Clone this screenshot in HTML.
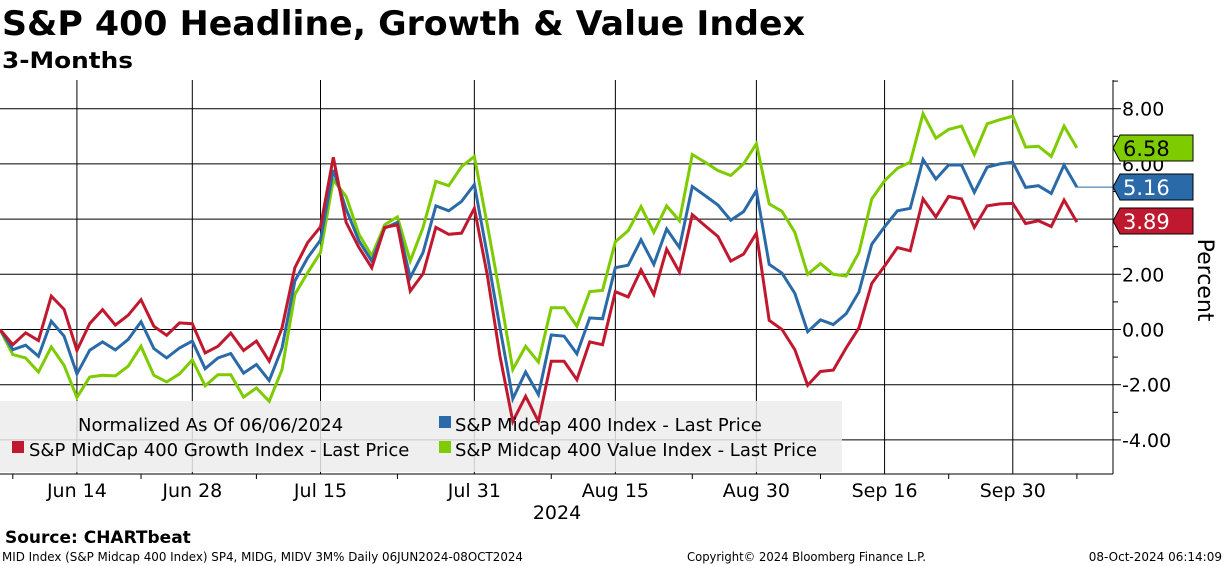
<!DOCTYPE html>
<html><head><meta charset="utf-8"><style>
body{margin:0;background:#fff}
svg{display:block;font-family:"DejaVu Sans","Liberation Sans",sans-serif}
</style></head><body>
<svg id="chart" width="1224" height="566" viewBox="0 0 1224 566">
<text x="2" y="35" font-size="34" font-weight="bold" textLength="803" lengthAdjust="spacingAndGlyphs">S&amp;P 400 Headline, Growth &amp; Value Index</text>
<text x="2" y="68" font-size="22" font-weight="bold" textLength="131" lengthAdjust="spacingAndGlyphs">3-Months</text>
<g id="grid"></g>
<rect x="0" y="401" width="842" height="71" fill="#ececec" fill-opacity="0.85"/>
<g id="series"></g>
<g id="axes"></g>
<g font-size="18">
<text x="78" y="431">Normalized As Of 06/06/2024</text>
<rect x="439" y="416" width="12" height="12" fill="#2a6aa8"/>
<text x="455" y="431">S&amp;P Midcap 400 Index - Last Price</text>
<rect x="12" y="441" width="12" height="12" fill="#c0182f"/>
<text x="29" y="456">S&amp;P MidCap 400 Growth Index - Last Price</text>
<rect x="439" y="441" width="12" height="12" fill="#7ecb00"/>
<text x="455" y="456">S&amp;P Midcap 400 Value Index - Last Price</text>
</g>
<text x="1198" y="280" font-size="22" transform="rotate(90 1198 280)" text-anchor="middle">Percent</text>
<text x="557" y="519" font-size="19" text-anchor="middle">2024</text>
<text x="5" y="543" font-size="17" font-weight="bold">Source: CHARTbeat</text>
<text x="2" y="561" font-size="12" textLength="521" lengthAdjust="spacingAndGlyphs">MID Index (S&amp;P Midcap 400 Index) SP4, MIDG, MIDV 3M%  Daily 06JUN2024-08OCT2024</text>
<text x="687" y="561" font-size="12" textLength="239" lengthAdjust="spacingAndGlyphs">Copyright© 2024 Bloomberg Finance L.P.</text>
<text x="1222" y="561" font-size="12" text-anchor="end">08-Oct-2024 06:14:09</text>
</svg>
<script>
const dateLabels=["Jun 14","Jun 28","Jul 15","Jul 31","Aug 15","Aug 30","Sep 16","Sep 30"];
const dateLabelIdx=[6,15,25,37,48,59,69,79];
const yTicks=[-4,-2,0,2,4,6,8];
const yTickLabels=["-4.00","-2.00","0.00","2.00","4.00","6.00","8.00"];
const valueSeries=[0,-0.91,-1.03,-1.54,-0.63,-1.3,-2.46,-1.72,-1.66,-1.68,-1.33,-0.61,-1.66,-1.9,-1.61,-1.1,-2.04,-1.64,-1.64,-2.45,-2.12,-2.6,-1.45,1.27,2.06,2.79,5.42,4.82,3.45,2.67,3.79,4.08,2.48,3.7,5.37,5.21,5.9,6.27,3.82,1.27,-1.45,-0.61,-1.18,0.79,0.79,0.12,1.37,1.42,3.18,3.58,4.45,3.52,4.48,3.94,6.34,6.06,5.76,5.58,6.0,6.73,4.55,4.28,3.52,2.0,2.39,2.0,1.94,2.79,4.73,5.39,5.84,6.06,7.82,6.93,7.25,7.37,6.34,7.45,7.6,7.73,6.61,6.64,6.27,7.37,6.58];
const headlineSeries=[0,-0.73,-0.57,-0.97,0.3,-0.24,-1.61,-0.75,-0.45,-0.74,-0.36,0.28,-0.69,-1.03,-0.67,-0.42,-1.42,-1.03,-0.87,-1.58,-1.27,-1.85,-0.67,1.76,2.6,3.24,5.78,4.36,3.21,2.48,3.67,3.88,1.88,2.79,4.48,4.3,4.64,5.25,2.73,0.06,-2.51,-1.54,-2.36,-0.2,-0.24,-0.88,0.42,0.39,2.24,2.33,3.25,2.36,3.64,2.97,5.18,4.85,4.51,3.96,4.27,5.03,2.36,2.04,1.31,-0.08,0.35,0.18,0.57,1.36,3.09,3.72,4.3,4.39,6.16,5.45,5.96,5.96,4.97,5.88,6.0,6.06,5.15,5.21,4.93,5.96,5.16];
const growthSeries=[0,-0.55,-0.12,-0.4,1.21,0.73,-0.76,0.22,0.72,0.16,0.52,1.08,0.12,-0.21,0.24,0.21,-0.85,-0.61,-0.13,-0.76,-0.42,-1.15,0.06,2.24,3.15,3.72,6.24,3.88,2.97,2.24,3.7,3.79,1.39,2.02,3.7,3.45,3.49,4.39,2.0,-0.97,-3.33,-2.42,-3.33,-1.15,-1.15,-1.82,-0.45,-0.55,1.37,1.18,2.16,1.27,2.91,2.08,4.16,3.76,3.37,2.48,2.73,3.49,0.33,0.0,-0.73,-2.02,-1.52,-1.47,-0.67,0.06,1.67,2.3,2.97,2.85,4.73,4.08,4.82,4.73,3.7,4.48,4.55,4.57,3.84,3.94,3.73,4.69,3.89];
const seriesNames=["value","headline","growth"];
const seriesColors=["#7ecb00","#2a6aa8","#c0182f"];
const tagY=[148,187,221];

const NS="http://www.w3.org/2000/svg";
const X0=0,STEP=12.82,Y0=329.5,YS=27.6,AX=1113,TOP=80,BOT=474;
function xs(i){return X0+i*STEP;}
function ys(v){return Y0-v*YS;}
function mk(t,a,p){const e=document.createElementNS(NS,t);for(const k in a)e.setAttribute(k,a[k]);p.appendChild(e);return e;}
const grid=document.getElementById('grid'),axes=document.getElementById('axes'),ser=document.getElementById('series');
yTicks.forEach((v,k)=>{
  const l=mk('line',{x1:0,x2:AX,y1:ys(v),y2:ys(v),stroke:'#000','stroke-width':1},grid);
  
  
  const t=mk('line',{x1:AX,x2:AX+8,y1:ys(v),y2:ys(v),stroke:'#000'},axes);
  
  
  const tx=mk('text',{x:AX+9,y:ys(v)+7,'font-size':19},axes);
  tx.textContent=yTickLabels[k];
  
  
  const m=mk('line',{x1:AX,x2:AX+5,y1:ys(v+1),y2:ys(v+1),stroke:'#000'},axes);
  
  
});
dateLabelIdx.forEach((d,k)=>{
  const g=mk('line',{x1:xs(d),x2:xs(d),y1:TOP,y2:BOT,stroke:'#000'},grid);
  
  
  const t=mk('text',{x:xs(d),y:497,'font-size':19,'text-anchor':'middle'},axes);
  t.textContent=dateLabels[k];
  
  
});
[1,11,20,31,43,54,64,74,84].forEach(d=>{
  const m=mk('line',{x1:xs(d),x2:xs(d),y1:BOT,y2:BOT+5,stroke:'#000'},axes);
  
  
});
const ax1=mk('line',{x1:AX,x2:AX,y1:TOP,y2:BOT,stroke:'#000'},axes);


const ax2=mk('line',{x1:0,x2:AX,y1:BOT,y2:BOT,stroke:'#000'},axes);


[valueSeries,headlineSeries,growthSeries].forEach((s,k)=>{
  const p=mk('polyline',{points:s.map((v,i)=>xs(i)+','+ys(v)).join(' '),fill:'none',stroke:seriesColors[k],'stroke-width':3,'stroke-linejoin':'miter'},ser);
  
  
  const last=s[s.length-1],ty=tagY[k];
  if(k===1){
    const c=mk('line',{x1:xs(s.length-1),x2:AX,y1:ys(last),y2:ys(last),stroke:seriesColors[k],'stroke-width':1},axes);
    
    
  }
  const tag=mk('polygon',{points:`${AX},${ty} ${AX+7},${ty-13} ${AX+80},${ty-13} ${AX+80},${ty+13} ${AX+7},${ty+13}`,fill:seriesColors[k],stroke:'#000','stroke-width':1},axes);
  
  
  const tt=mk('text',{x:AX+10,y:ty+8,'font-size':21,fill:k===0?'#000':'#fff'},axes);
  tt.textContent=last.toFixed(2);
  
  
});
</script>
</body></html>
